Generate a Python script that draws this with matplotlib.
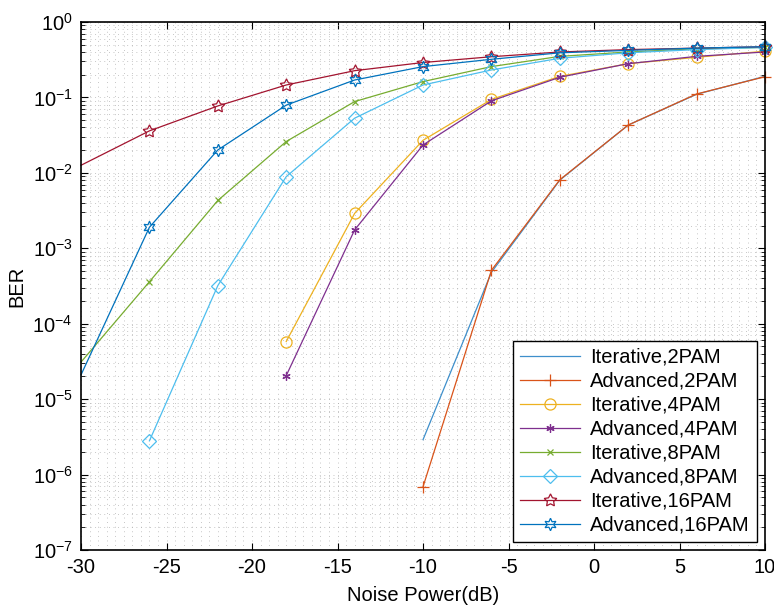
import numpy as np
import matplotlib
matplotlib.use("Agg")
import matplotlib.pyplot as plt
from matplotlib.ticker import LogLocator, MultipleLocator, NullFormatter

plt.rcParams["font.family"] = ["Liberation Sans", "DejaVu Sans"]
plt.rcParams["mathtext.fontset"] = "custom"
plt.rcParams["mathtext.rm"] = "Liberation Sans"
plt.rcParams["axes.unicode_minus"] = False

nan = np.nan
noise_db = [-30, -26, -22, -18, -14, -10, -6, -2, 2, 6, 10]

iter_2pam = [nan, nan, nan, nan, nan, 2.9e-6, 4.8e-4, 8.0e-3, 0.043, 0.11, 0.19]
adv_2pam = [nan, nan, nan, nan, nan, 6.9e-7, 5.1e-4, 8.1e-3, 0.043, 0.111, 0.188]
iter_4pam = [nan, nan, nan, 5.8e-5, 2.9e-3, 0.027, 0.094, 0.19, 0.28, 0.34, 0.41]
adv_4pam = [nan, nan, nan, 2.05e-5, 1.75e-3, 0.0234, 0.09, 0.185, 0.28, 0.35, 0.40]
iter_8pam = [3.1e-5, 3.6e-4, 4.3e-3, 0.026, 0.088, 0.162, 0.256, 0.35, 0.40, 0.44, 0.46]
adv_8pam = [nan, 2.8e-6, 3.2e-4, 8.9e-3, 0.053, 0.146, 0.231, 0.33, 0.39, 0.43, 0.46]
iter_16pam = [0.0126, 0.036, 0.077, 0.146, 0.226, 0.29, 0.346, 0.40, 0.43, 0.45, 0.47]
adv_16pam = [2.1e-5, 1.9e-3, 0.0201, 0.079, 0.170, 0.256, 0.32, 0.39, 0.42, 0.45, 0.47]

labels = ["Iterative,2PAM", "Advanced,2PAM", "Iterative,4PAM", "Advanced,4PAM",
          "Iterative,8PAM", "Advanced,8PAM", "Iterative,16PAM", "Advanced,16PAM"]
series = [iter_2pam, adv_2pam, iter_4pam, adv_4pam, iter_8pam, adv_8pam, iter_16pam, adv_16pam]

colors = ["#3E8FCB", "#D95319", "#EDB120", "#7E2F8E", "#77AC30", "#4DBEEE", "#A2142F", "#0072BD"]
# matlab-ish markers: +, o, asterisk, x, diamond, pentagram, hexagram
markers = [None, "+", "o", (6, 2, 0), "x", "D", (5, 1, 0), (6, 1, 0)]
msizes = [0, 8, 8, 6, 5, 7.5, 9.5, 9]

fig = plt.figure(figsize=(7.74, 6.10), dpi=100)
ax = fig.add_axes([0.1047, 0.0984, 0.8837, 0.8656])

for vals, lab, col, mk, ms in zip(series, labels, colors, markers, msizes):
    ax.plot(noise_db, vals, color=col, lw=0.9, marker=mk, markersize=ms,
            markerfacecolor="none", markeredgecolor=col, markeredgewidth=0.9,
            markevery=slice(1, None), label=lab, clip_on=False)

ax.set_yscale("log")
ax.set_xlim(-30, 10)
ax.set_ylim(1e-7, 1)
ax.xaxis.set_major_locator(MultipleLocator(5))
ax.xaxis.set_minor_locator(MultipleLocator(0.5))
ax.yaxis.set_major_locator(LogLocator(base=10, numticks=20))
ax.yaxis.set_minor_locator(LogLocator(base=10, subs=np.arange(2, 10), numticks=20))
ax.yaxis.set_minor_formatter(NullFormatter())

ax.grid(True, which="both", color="#a5a5a5", linestyle=(0, (1, 5)), linewidth=0.55)
ax.tick_params(which="both", direction="in", top=True, right=True, labelsize=14.5, pad=6)
ax.tick_params(which="major", length=5, width=0.8)
ax.tick_params(axis="y", which="minor", length=3, width=0.6)
ax.tick_params(axis="x", which="minor", length=0)
for sp in ax.spines.values():
    sp.set_linewidth(1.2)

ax.set_xlabel("Noise Power(dB)", fontsize=14.5, labelpad=6)
ax.set_ylabel("BER", fontsize=14.5, labelpad=4)

leg = ax.legend(loc="lower right", fontsize=14.5, fancybox=False, framealpha=1,
                edgecolor="black", handlelength=3.0, labelspacing=0.25,
                borderaxespad=0.4, handletextpad=0.5, borderpad=0.35)
leg.get_frame().set_linewidth(1.0)

fig.savefig("out.png", dpi=100)
